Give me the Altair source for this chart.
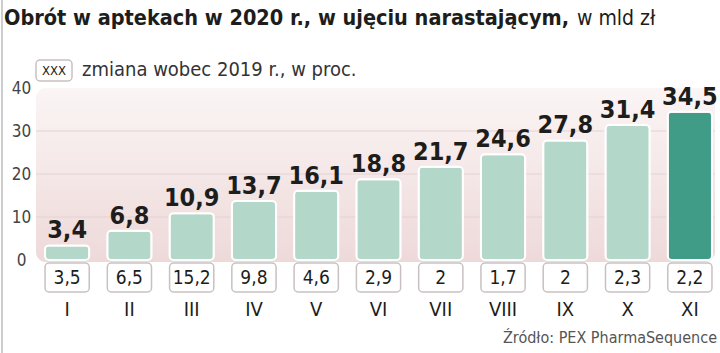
import altair as alt
import pandas as pd

months = ["I", "II", "III", "IV", "V", "VI", "VII", "VIII", "IX", "X", "XI"]
turnover = [3.4, 6.8, 10.9, 13.7, 16.1, 18.8, 21.7, 24.6, 27.8, 31.4, 34.5]
change = [3.5, 6.5, 15.2, 9.8, 4.6, 2.9, 2, 1.7, 2, 2.3, 2.2]
highlight = ["no"] * 10 + ["yes"]
grid_values = [10, 20, 30]
y_ticks = [0, 10, 20, 30, 40]

title_bold = "Obrót w aptekach w 2020 r., w ujęciu narastającym,"
title_reg = "w mld zł"
legend_text = "zmiana wobec 2019 r., w proc."
source_text = "Źródło: PEX PharmaSequence"

def pl(v):
    return f"{v:g}".replace(".", ",")

df = pd.DataFrame({
    "month": months,
    "turnover": turnover,
    "change": change,
    "hl": highlight,
})
df["tlabel"] = [pl(v) for v in turnover]
df["clabel"] = [pl(v) for v in change]

FONT = "DejaVu Sans Condensed, sans-serif"

xscale = alt.Scale(domain=months, range=[36, 721], paddingInner=0.29, paddingOuter=0.145)
yscale = alt.Scale(domain=[0, 40], range=[260, 88], nice=False, zero=True)

x_axis = alt.Axis(title=None, orient="bottom", offset=-56, ticks=False, domain=False,
                  labelPadding=2, labelFontSize=20, labelFont=FONT, labelColor="#1d1d1b",
                  labelAngle=0, labelBaseline="top")
y_axis = alt.Axis(title=None, orient="left", offset=-21, values=y_ticks,
                  ticks=False, domain=False, grid=False, labelAlign="center",
                  labelPadding=0, labelFontSize=17, labelFont=FONT, labelColor="#444444")

one = pd.DataFrame({"a": [0]})

bg = alt.Chart(one).mark_rect(
    cornerRadius=10,
    color=alt.Gradient(gradient="linear",
                       stops=[alt.GradientStop(color="#fbf5f5", offset=0),
                              alt.GradientStop(color="#eed9d9", offset=1)],
                       x1=0, x2=0, y1=0, y2=1),
).encode(
    x=alt.value(36), x2=alt.value(715),
    y=alt.value(88), y2=alt.value(262),
)

grid = alt.Chart(pd.DataFrame({"g": grid_values})).mark_rule(color="#e4d2d2", strokeWidth=1).encode(
    x=alt.value(36), x2=alt.value(715),
    y=alt.Y("g:Q", scale=yscale, axis=y_axis),
)

bars = alt.Chart(df).mark_bar(cornerRadius=4, stroke="white", strokeWidth=2).encode(
    x=alt.X("month:N", scale=xscale, sort=months, axis=x_axis),
    y=alt.Y("turnover:Q", scale=yscale, axis=y_axis),
    color=alt.Color("hl:N", scale=alt.Scale(domain=["no", "yes"], range=["#b3d7c9", "#409c87"]), legend=None),
)

vlabels = alt.Chart(df).mark_text(baseline="bottom", dy=-2, fontSize=25, fontWeight="bold",
                                  font=FONT, color="#1d1d1b").encode(
    x=alt.X("month:N", scale=xscale, sort=months, axis=x_axis),
    y=alt.Y("turnover:Q", scale=yscale, axis=y_axis),
    text="tlabel:N",
)

boxes = alt.Chart(df).mark_bar(cornerRadius=4, fill="white", stroke="#c9c1c1", strokeWidth=1.5).encode(
    x=alt.X("month:N", scale=xscale, sort=months, axis=x_axis),
    y=alt.value(263), y2=alt.value(292),
)

clabels = alt.Chart(df).mark_text(baseline="middle", fontSize=19, font=FONT, color="#1d1d1b").encode(
    x=alt.X("month:N", scale=xscale, sort=months, axis=x_axis),
    y=alt.value(278),
    text="clabel:N",
)

t1 = alt.Chart(one).mark_text(align="left", baseline="middle", fontSize=21.5, fontWeight="bold",
                              font=FONT, color="#1d1d1b", text=title_bold).encode(
    x=alt.value(4), y=alt.value(19))
t2 = alt.Chart(one).mark_text(align="left", baseline="middle", fontSize=21,
                              font=FONT, color="#1d1d1b", text=title_reg).encode(
    x=alt.value(577), y=alt.value(19))

legbox = alt.Chart(one).mark_rect(cornerRadius=4, fill="white", stroke="#c9c1c1", strokeWidth=1.5).encode(
    x=alt.value(36), x2=alt.value(72), y=alt.value(60), y2=alt.value(81))
legxxx = alt.Chart(one).mark_text(align="center", baseline="middle", fontSize=13, font=FONT,
                                  color="#1d1d1b", text="XXX").encode(
    x=alt.value(54), y=alt.value(71))
legtxt = alt.Chart(one).mark_text(align="left", baseline="middle", fontSize=20, font=FONT,
                                  color="#333333", text=legend_text).encode(
    x=alt.value(82), y=alt.value(70))

src = alt.Chart(one).mark_text(align="right", baseline="middle", fontSize=16, font=FONT,
                               color="#555555", text=source_text).encode(
    x=alt.value(717), y=alt.value(338))

border = alt.Chart(one).mark_rule(color="#bdbdbd", strokeWidth=1.5).encode(
    x=alt.value(2), y=alt.value(0), y2=alt.value(353))

chart = alt.layer(bg, grid, bars, vlabels, boxes, clabels, t1, t2, legbox, legxxx, legtxt, src, border).properties(
    width=720, height=353, padding=0,
    autosize=alt.AutoSizeParams(type="none"),
    background="white",
).configure_view(stroke=None)

chart.save("out.html", embed_options={"renderer": "svg", "actions": False})
